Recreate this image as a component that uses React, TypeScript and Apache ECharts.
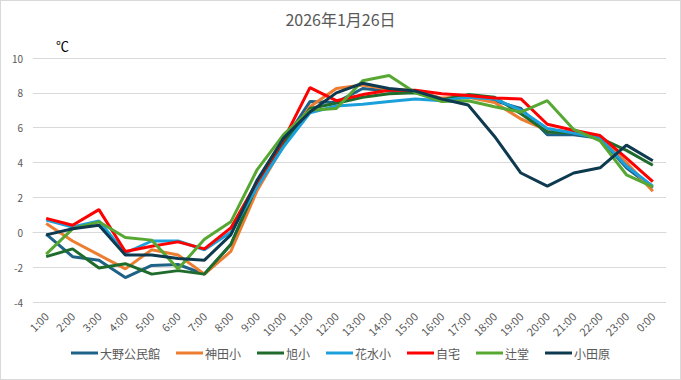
import React, { useEffect, useRef } from "react";
import * as echarts from "echarts";

const title = "2026年1月26日";
const unit = "℃";
const hours = [
  "1:00", "2:00", "3:00", "4:00", "5:00", "6:00", "7:00", "8:00", "9:00", "10:00", "11:00", "12:00",
  "13:00", "14:00", "15:00", "16:00", "17:00", "18:00", "19:00", "20:00", "21:00", "22:00", "23:00", "0:00",
];
const seriesNames = ["大野公民館", "神田小", "旭小", "花水小", "自宅", "辻堂", "小田原"];
const seriesColors = ["#1f6287", "#ed7d31", "#1e6b2c", "#1ca0dc", "#ff0000", "#57a832", "#0e3a4f"];

const oono = [-0.1, -1.4, -1.6, -2.6, -1.9, -1.85, -2.4, -0.7, 2.8, 5.2, 7.5, 7.45, 8.25, 8.1, 8.1, 7.65, 7.8, 7.55, 7.1, 5.6, 5.6, 5.4, 3.7, 2.55];
const kanda = [0.5, -0.5, -1.3, -2.1, -1.0, -1.3, -2.4, -1.1, 2.4, 5.0, 7.2, 8.25, 8.45, 8.2, 8.1, 7.7, 7.75, 7.45, 6.5, 5.85, 5.75, 5.5, 4.0, 2.35];
const asahi = [-1.4, -0.95, -2.05, -1.8, -2.4, -2.2, -2.4, -0.7, 2.7, 5.1, 7.1, 7.4, 7.75, 7.95, 8.0, 7.6, 7.9, 7.75, 6.8, 5.75, 5.7, 5.4, 4.7, 3.85];
const hanamizu = [0.7, 0.3, 0.65, -1.2, -0.5, -0.5, -1.0, 0.0, 2.6, 4.9, 6.85, 7.25, 7.35, 7.5, 7.65, 7.55, 7.75, 7.65, 7.0, 5.95, 5.7, 5.4, 3.8, 2.65];
const jitaku = [0.8, 0.4, 1.3, -1.1, -0.8, -0.55, -0.95, 0.25, 2.9, 5.3, 8.3, 7.55, 7.9, 8.15, 8.15, 7.95, 7.85, 7.7, 7.65, 6.2, 5.85, 5.55, 4.25, 2.9];
const tsujido = [-1.25, 0.2, 0.6, -0.3, -0.45, -2.1, -0.4, 0.6, 3.6, 5.6, 7.0, 7.1, 8.7, 9.0, 8.0, 7.5, 7.55, 7.2, 6.9, 7.55, 5.9, 5.25, 3.3, 2.6];
const odawara = [-0.15, 0.2, 0.4, -1.3, -1.3, -1.5, -1.6, -0.15, 3.0, 5.4, 6.9, 8.0, 8.55, 8.25, 8.1, 7.65, 7.3, 5.5, 3.4, 2.65, 3.4, 3.7, 5.0, 4.1];
const seriesValues = [oono, kanda, asahi, hanamizu, jitaku, tsujido, odawara];

const yMin = -4;
const yMax = 10;
const yStep = 2;

const FONT = "'Noto Sans CJK JP', 'Noto Sans', sans-serif";

export default function App() {
  const ref = useRef<HTMLDivElement>(null);
  useEffect(() => {
    document.body.style.margin = "0";
    if (!ref.current) return;
    const chart = echarts.init(ref.current, undefined, { renderer: "svg" });
    chart.setOption({
      animation: false,
      backgroundColor: "#ffffff",
      textStyle: { fontFamily: FONT },
      title: {
        text: title,
        left: "center",
        top: 5,
        textStyle: { fontSize: 16, fontWeight: "normal", color: "#595959", fontFamily: FONT },
      },
      graphic: [
        {
          type: "text",
          left: 55,
          top: 38,
          style: { text: unit, fontSize: 13, fill: "#000000", fontFamily: FONT },
        },
      ],
      legend: {
        bottom: 15,
        left: "center",
        icon: "rect",
        itemWidth: 27,
        itemHeight: 3,
        itemGap: 16,
        textStyle: { fontSize: 12, color: "#595959", fontFamily: FONT, padding: [0, 0, 0, -3] },
        data: seriesNames,
      },
      grid: { left: 32, right: 14, top: 57, bottom: 77, containLabel: false },
      xAxis: {
        type: "category",
        data: hours,
        boundaryGap: true,
        axisLine: { show: true, lineStyle: { color: "#d9d9d9" } },
        axisTick: { show: false },
        axisLabel: { rotate: 45, fontSize: 11, color: "#595959", margin: 12, interval: 0 },
      },
      yAxis: {
        type: "value",
        min: yMin,
        max: yMax,
        interval: yStep,
        axisLine: { show: false },
        axisTick: { show: false },
        axisLabel: { fontSize: 10, color: "#595959", margin: 10 },
        splitLine: { lineStyle: { color: "#d9d9d9", width: 1 } },
      },
      series: seriesNames.map((name, i) => ({
        name,
        type: "line",
        data: seriesValues[i],
        symbol: "none",
        color: seriesColors[i],
        lineStyle: { width: 3, color: seriesColors[i] },
        itemStyle: { color: seriesColors[i] },
      })),
    });
    return () => chart.dispose();
  }, []);
  return (
    <div
      ref={ref}
      style={{ width: 681, height: 380, boxSizing: "border-box", border: "1px solid #d9d9d9" }}
    />
  );
}
